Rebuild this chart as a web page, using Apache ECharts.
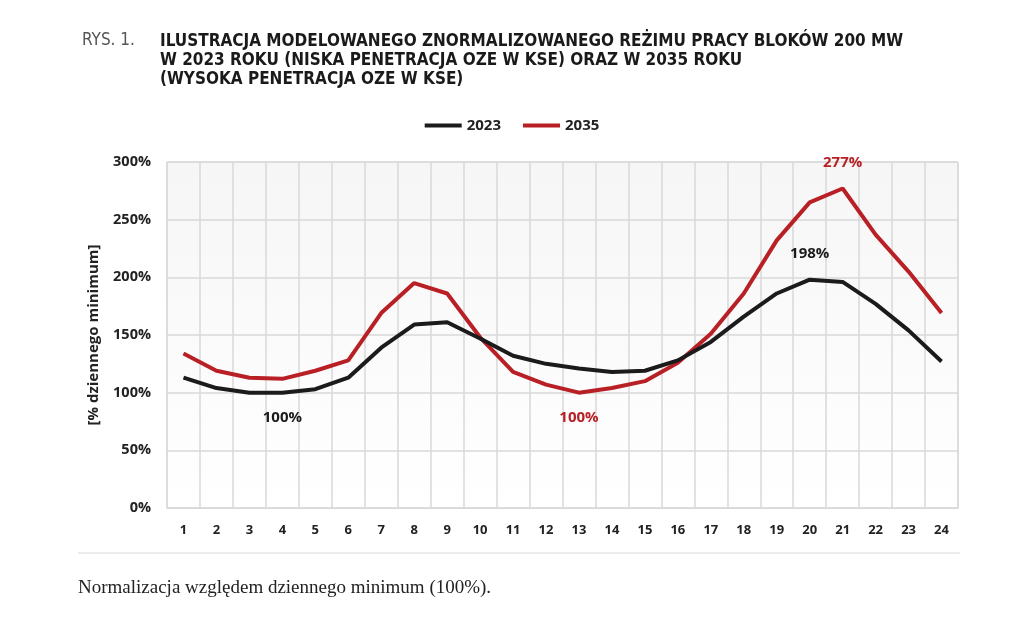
<!DOCTYPE html>
<html>
<head>
<meta charset="utf-8">
<script src="https://cdn.jsdelivr.net/npm/echarts@6/dist/echarts.min.js"></script>
<style>
  html, body { margin: 0; padding: 0; background: #fff; }
  #chart { width: 1024px; height: 619px; }
</style>
</head>
<body>
<div id="chart"></div>
<script>
// godziny doby
const hours = ['1','2','3','4','5','6','7','8','9','10','11','12','13','14','15','16','17','18','19','20','21','22','23','24'];
// 2023 - niska penetracja OZE
const values2023 = [113, 104, 100, 100, 103, 113, 139, 159, 161, 147, 132, 125, 121, 118, 119, 128, 144, 166, 186, 198, 196, 177, 154, 127];
// 2035 - wysoka penetracja OZE
const values2035 = [134, 119, 113, 112, 119, 128, 169, 195, 186, 148, 118, 107, 100, 104, 110, 126, 151, 186, 232, 265, 277, 237, 205, 169];
const yTicks = [0, 50, 100, 150, 200, 250, 300];
// etykiety min/max: [indeks, pozycja]
const notes2023 = [[3, 'bottom'], [19, 'top']];
const notes2035 = [[12, 'bottom'], [20, 'top']];

const BLACK = '#1b1b1b';
const RED = '#b92025';
const CONDENSED = '"DejaVu Sans Condensed", "Liberation Sans Narrow", "Roboto", sans-serif';

const withNotes = (values, notes, color) => values.map((v, i) => {
    const n = notes.find(x => x[0] === i);
    if (!n) return v;
    return {
        value: v,
        label: {
            show: true,
            position: n[1],
            distance: 18,
            formatter: v + '%',
            color: color,
            fontFamily: 'Open Sans',
            fontWeight: 'bold',
            fontSize: 15
        }
    };
});

const chart = echarts.init(document.getElementById('chart'));
chart.setOption({
    animation: false,
    backgroundColor: '#fff',
    title: [
        {
            text: 'RYS. 1.',
            left: 77, top: 27,
            textStyle: { fontFamily: CONDENSED, fontWeight: 'normal', fontSize: 17, color: '#555' }
        },
        {
            text: 'ILUSTRACJA MODELOWANEGO ZNORMALIZOWANEGO REŻIMU PRACY BLOKÓW 200 MW\nW 2023 ROKU (NISKA PENETRACJA OZE W KSE) ORAZ W 2035 ROKU\n(WYSOKA PENETRACJA OZE W KSE)',
            left: 155, top: 27,
            textStyle: { fontFamily: CONDENSED, fontWeight: 'bold', fontSize: 17, lineHeight: 19, color: '#1a1a1a' }
        }
    ],
    legend: {
        top: 113,
        left: 'center',
        itemGap: 22,
        itemWidth: 37,
        itemHeight: 4,
        icon: 'rect',
        textStyle: { fontFamily: 'Open Sans', fontWeight: 'bold', fontSize: 15, color: '#222' },
        data: ['2023', '2035']
    },
    grid: {
        left: 167, right: 66, top: 162, bottom: 111,
        show: true,
        borderColor: '#d8d8d8',
        borderWidth: 1,
        backgroundColor: new echarts.graphic.LinearGradient(0, 0, 0, 1, [
            { offset: 0, color: '#f6f6f6' },
            { offset: 1, color: '#ffffff' }
        ])
    },
    xAxis: {
        type: 'category',
        data: hours,
        boundaryGap: true,
        axisLine: { show: true, lineStyle: { color: '#d8d8d8' } },
        axisTick: { show: false },
        splitLine: { show: true, lineStyle: { color: '#d8d8d8', width: 1.5 } },
        axisLabel: { margin: 16, color: '#222', fontFamily: 'Open Sans', fontWeight: 'bold', fontSize: 13 }
    },
    yAxis: {
        type: 'value',
        min: yTicks[0],
        max: yTicks[yTicks.length - 1],
        interval: 50,
        name: '[% dziennego minimum]',
        nameLocation: 'middle',
        nameGap: 66,
        nameTextStyle: { fontFamily: 'Open Sans', fontWeight: 'bold', fontSize: 15, color: '#222' },
        axisLine: { show: false },
        axisTick: { show: false },
        splitLine: { lineStyle: { color: '#d8d8d8', width: 1.5 } },
        axisLabel: { margin: 16, formatter: '{value}%', color: '#222', fontFamily: 'Open Sans', fontWeight: 'bold', fontSize: 14.5 }
    },
    series: [
        {
            name: '2023',
            type: 'line',
            data: withNotes(values2023, notes2023, BLACK),
            symbol: 'circle',
            symbolSize: 0.01,
            showSymbol: true,
            lineStyle: { width: 4, color: BLACK },
            itemStyle: { color: BLACK },
            z: 3
        },
        {
            name: '2035',
            type: 'line',
            data: withNotes(values2035, notes2035, RED),
            symbol: 'circle',
            symbolSize: 0.01,
            showSymbol: true,
            lineStyle: { width: 4, color: RED },
            itemStyle: { color: RED },
            z: 2
        }
    ],
    graphic: [
        {
            type: 'line',
            shape: { x1: 78, y1: 553, x2: 960, y2: 553 },
            style: { stroke: '#e6e6e6', lineWidth: 1.5 }
        },
        {
            type: 'text',
            left: 78, top: 579,
            style: {
                text: 'Normalizacja względem dziennego minimum (100%).',
                font: '19px "Liberation Serif"',
                fill: '#222'
            }
        }
    ]
});
</script>
</body>
</html>
